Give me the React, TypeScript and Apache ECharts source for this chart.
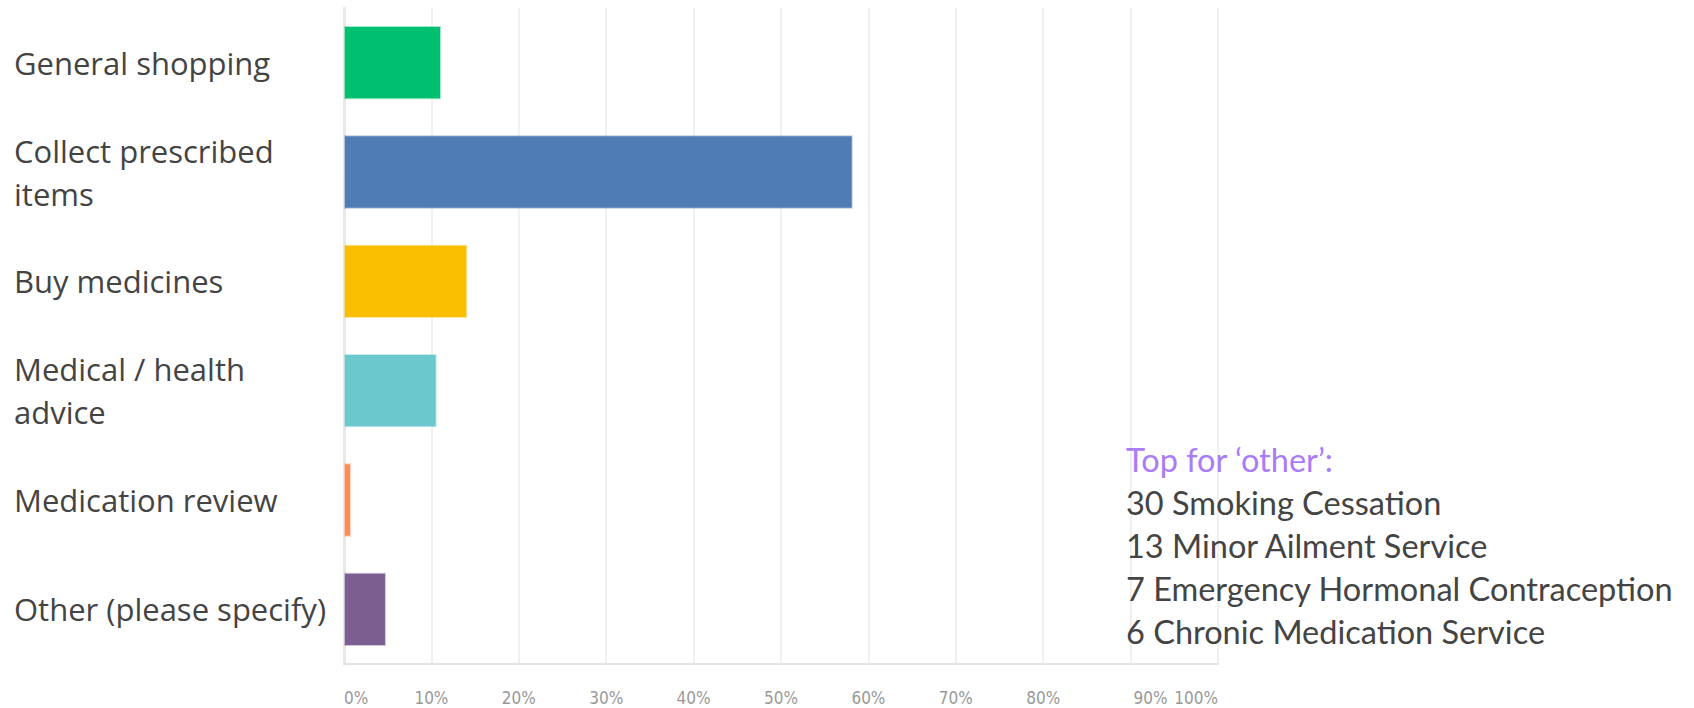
import React, { useEffect, useRef } from "react";
import * as echarts from "echarts";

const categories = [
  "General shopping",
  "Collect prescribed\nitems",
  "Buy medicines",
  "Medical / health\nadvice",
  "Medication review",
  "Other (please specify)",
];
const values = [11.1, 58.2, 14.1, 10.6, 0.8, 4.8];
const barColors = ["#00BF6F", "#507CB6", "#F9BE00", "#6BC8CD", "#FF8B4F", "#7D5E90"];
const borderColors = [
  "rgba(0,191,111,0.35)",
  "rgba(80,124,182,0.35)",
  "rgba(249,190,0,0.35)",
  "rgba(107,200,205,0.35)",
  "rgba(255,139,79,0.35)",
  "rgba(125,94,144,0.35)",
];
const noteTitle = "Top for \u2018other\u2019:";
const noteLines = [
  "30 Smoking Cessation",
  "13 Minor Ailment Service",
  "7 Emergency Hormonal Contraception",
  "6 Chronic Medication Service",
];

export default function App() {
  const ref = useRef<HTMLDivElement>(null);
  useEffect(() => {
    document.body.style.margin = "0";
    const chart = echarts.init(ref.current!, null, { renderer: "svg" });
    const noteY0 = 464;
    const noteStep = 43;
    const labelFont = "'DejaVu Sans Condensed', Roboto, sans-serif";
    chart.setOption({
      animation: false,
      backgroundColor: "#ffffff",
      grid: { left: 344, right: 476, top: 8, bottom: 44, containLabel: false },
      xAxis: {
        type: "value",
        min: 0,
        max: 100,
        interval: 10,
        axisLine: { show: true, lineStyle: { color: "#e4e4e4", width: 2 } },
        axisTick: { show: false },
        splitLine: { show: true, lineStyle: { color: "#f0f0f0", width: 2 } },
        axisLabel: {
          margin: 25,
          color: "#999999",
          fontSize: 17,
          fontFamily: labelFont,
          showMinLabel: true,
          showMaxLabel: true,
          alignMinLabel: "left",
          alignMaxLabel: "right",
          formatter: (v: number) => (v === 90 ? "{shift|" + v + "%}" : v + "%"),
          rich: {
            shift: {
              padding: [0, 0, 0, 40],
              color: "#999999",
              fontSize: 17,
              fontFamily: labelFont,
            },
          },
        },
      },
      yAxis: {
        type: "category",
        inverse: true,
        data: categories,
        axisLine: { show: true, lineStyle: { color: "#e8e8e8", width: 3 } },
        axisTick: { show: false },
        splitLine: { show: false },
        axisLabel: {
          align: "left",
          margin: 330,
          color: "#444444",
          fontSize: 31,
          lineHeight: 43,
          fontFamily: "'Open Sans', sans-serif",
        },
      },
      series: [
        {
          type: "bar",
          barCategoryGap: "33%",
          data: values.map((v, i) => ({
            value: v,
            itemStyle: {
              color: barColors[i],
              borderColor: borderColors[i],
              borderWidth: 2,
            },
          })),
        },
      ],
      graphic: [
        {
          type: "text",
          left: 1126,
          top: noteY0 - 21,
          z: 100,
          style: {
            text: noteTitle,
            fill: "#A97CF8",
            font: "32.5px Lato, sans-serif",
          },
        },
        ...noteLines.map((t, i) => ({
          type: "text",
          left: 1126,
          top: noteY0 + noteStep * (i + 1) - 21,
          z: 100,
          style: {
            text: t,
            fill: "#444444",
            font: "32.5px Lato, sans-serif",
          },
        })),
      ],
    });
    return () => chart.dispose();
  }, []);
  return <div ref={ref} style={{ width: 1694, height: 708 }} />;
}
